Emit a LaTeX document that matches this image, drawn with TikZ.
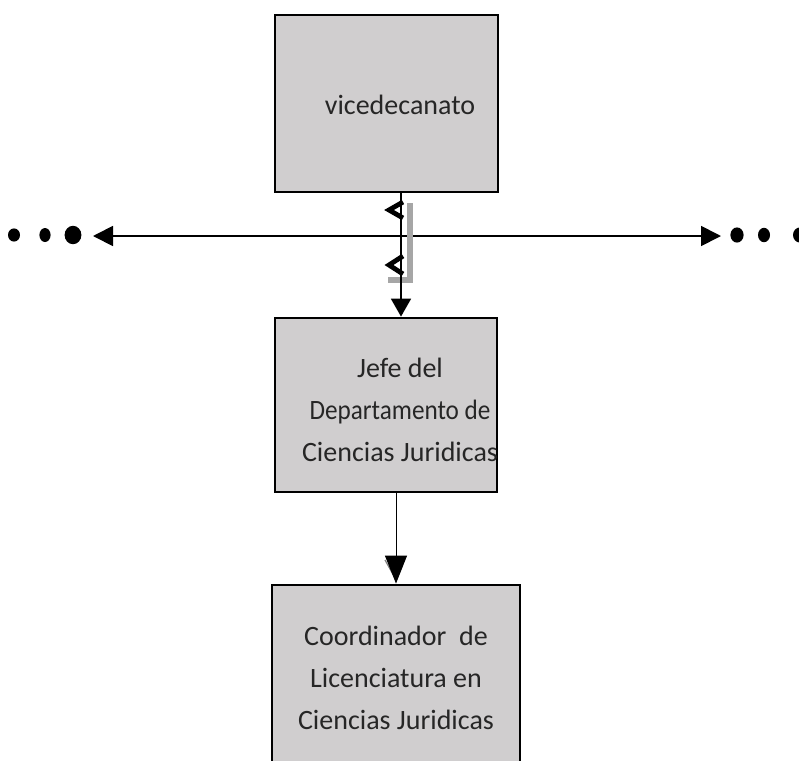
\documentclass[tikz,border=0pt]{standalone}
\usepackage{fontspec}
\setmainfont{Carlito}
\usepackage{xcolor}
\usetikzlibrary{arrows.meta,calc,positioning}
\definecolor{boxfill}{RGB}{208,206,207}
\definecolor{boxtext}{RGB}{38,38,38}
\begin{document}
\begin{tikzpicture}[x=0.5pt,y=-0.5pt,
  every node/.style={font=\fontsize{14}{21}\selectfont,align=center,text=boxtext},
  orgbox/.style={draw,line width=1.4pt,fill=boxfill,inner sep=0pt}]
\useasboundingbox (0,0) rectangle (799,761);
\clip (0,0) rectangle (799,761);
\node[orgbox,minimum width=111.5pt,minimum height=88.5pt] (vice) at (386.5,103.5) {};
\node[orgbox,minimum width=111pt,minimum height=87pt] (jefe) at (386,405) {};
\node[orgbox,minimum width=124pt,minimum height=93pt] (coord) at (396,678) {Coordinador\ \ de\\Licenciatura en\\Ciencias Juridicas};
\node (vicetext) at (400,105) {vicedecanato};
\node (jefetext) at (400,410) {Jefe del\\\scalebox{0.9}[1]{Departamento de}\\Ciencias Juridicas};
\coordinate (lft) at (93,236);
\coordinate (rgt) at (721,236);
\coordinate (mid) at (401,236);
% side line with dots
\draw[line width=0.9pt,{Triangle[length=10pt,width=10pt]}-{Triangle[length=10pt,width=10pt]}] (lft) -- (rgt);
\fill (14,235) ellipse [x radius=3pt,y radius=3.3pt];
\fill (45,235) ellipse [x radius=2.8pt,y radius=3.5pt];
\fill (73,235) ellipse [x radius=4.2pt,y radius=4.6pt];
\fill (737,235) ellipse [x radius=3.3pt,y radius=3.8pt];
\fill (764,235) ellipse [x radius=3pt,y radius=3.6pt];
\fill (800,235) ellipse [x radius=3.5pt,y radius=3.8pt];
% marks on the vertical link
\fill[gray!70] (407,203) rectangle (413,283);
\fill[gray!70] (388,277) rectangle (413,283);
\draw[line width=0.9pt,-{Triangle[length=9pt,width=10pt]}] (vice.south -| mid) -- (jefe.north -| mid);
\draw[line width=2.4pt,line join=miter] (403,202) -- (389,210) -- (403,218);
\draw[line width=2.4pt,line join=miter] (403,256) -- (389,265) -- (403,274);
% lower link
\draw[gray,line width=0.6pt] (385,560) -- (395,578);
\draw[line width=0.5pt,-{Triangle[length=14pt,width=11pt]}] (jefe.south -| coord.north) -- (coord.north);
\end{tikzpicture}
\end{document}
